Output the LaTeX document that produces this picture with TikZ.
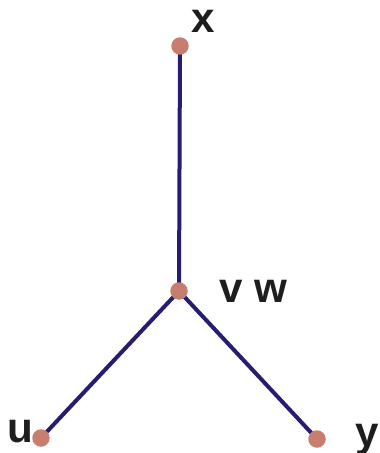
\documentclass[tikz,border=0pt]{standalone}
\usepackage{fontspec}
\setmainfont{Liberation Sans}
\usetikzlibrary{positioning}
\definecolor{edgenavy}{RGB}{38,28,112}
\definecolor{dotsalmon}{RGB}{200,126,110}
\definecolor{labeldark}{RGB}{30,30,30}
\tikzset{
  vertexdot/.style={
    circle, fill=dotsalmon, draw=none,
    minimum size=0.35cm, inner sep=0pt
  },
  treeedge/.style={
    draw=edgenavy, line width=0.08cm
  },
  vertexlabel/.style={
    font=\fontsize{24}{29}\selectfont\bfseries\color{labeldark},
    anchor=base, inner sep=0pt
  },
}
\begin{document}
\begin{tikzpicture}[x=0.02cm,y=-0.02cm]
  \useasboundingbox (0,0) rectangle (379,453);

  %% Vertices
  \coordinate (vx) at (180,46);
  \coordinate (vv) at (179,291);
  \coordinate (vu) at (41,438);
  \coordinate (vy) at (317,439);

  %% Edges
  \draw[treeedge] (vx) -- (vv);
  \draw[treeedge] (vv) -- (vu);
  \draw[treeedge] (vv) -- (vy);

  \node[vertexdot] (x) at (vx) {};
  \node[vertexdot] (v) at (vv) {};
  \node[vertexdot] (u) at (vu) {};
  \node[vertexdot] (y) at (vy) {};

  %% Labels
  \node[vertexlabel] (lx) at (203,32) {x};
  \node[vertexlabel] (lv) at (253,302) {v w};
  \node[vertexlabel] (lu) at (20,442) {u};
  \node[vertexlabel] (ly) at (367,446) {y};

\end{tikzpicture}
\end{document}
